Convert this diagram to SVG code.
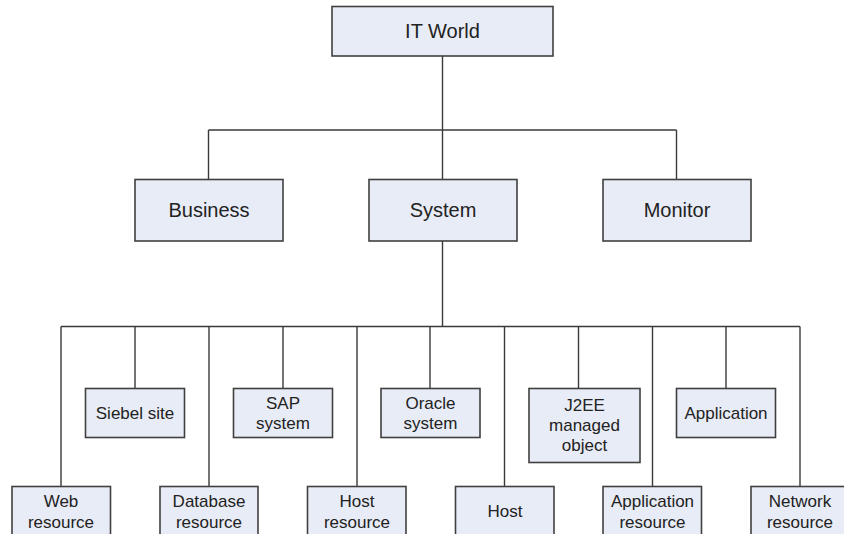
<svg xmlns="http://www.w3.org/2000/svg" width="844" height="534" viewBox="0 0 844 534">
<style>
.box{fill:#E8ECF6;stroke:#404040;stroke-width:1.6}
.big{font-family:"Liberation Sans",Arial,sans-serif;font-size:20px;fill:#222;text-anchor:middle}
.sm{font-family:"Liberation Sans",Arial,sans-serif;font-size:17px;fill:#222;text-anchor:middle}
.ln{fill:none;stroke:#3a3a3a;stroke-width:1.4}
</style>
<rect width="844" height="534" fill="#fff"/>
<g id="connectors" class="ln">
<path d="M442.5 56V130M208.5 130H676.5M208.5 130V179.5M442.5 130V179.5M676.5 130V179.5"/>
<path d="M442.5 241V326.5M61 326.5H800"/>
<path d="M61 326.5V486.5M135 326.5V388.5M209 326.5V486.5M283 326.5V388.5M357 326.5V486.5M430 326.5V388.5M504.5 326.5V486.5M578.5 326.5V388.5M652.5 326.5V486.5M726 326.5V388.5M800 326.5V486.5"/>
</g>
<g id="itworld"><rect class="box" x="332" y="6.5" width="221" height="49.5"/><text class="big" x="442.5" y="37.5">IT World</text></g>
<g id="business"><rect class="box" x="135" y="179.5" width="148" height="61.5"/><text class="big" x="209" y="217">Business</text></g>
<g id="system"><rect class="box" x="369" y="179.5" width="148" height="61.5"/><text class="big" x="443" y="217">System</text></g>
<g id="monitor"><rect class="box" x="603" y="179.5" width="148" height="61.5"/><text class="big" x="677" y="217">Monitor</text></g>

<g id="siebel"><rect class="box" x="85.5" y="388.5" width="99" height="49"/><text class="sm" x="135" y="419">Siebel site</text></g>
<g id="sap"><rect class="box" x="233.5" y="388.5" width="99" height="49"/><text class="sm" x="283" y="409">SAP</text><text class="sm" x="283" y="429">system</text></g>
<g id="oracle"><rect class="box" x="381" y="388.5" width="99" height="49"/><text class="sm" x="430.5" y="409">Oracle</text><text class="sm" x="430.5" y="429">system</text></g>
<g id="j2ee"><rect class="box" x="529" y="388.5" width="111" height="74"/><text class="sm" x="584.5" y="410.5">J2EE</text><text class="sm" x="584.5" y="431">managed</text><text class="sm" x="584.5" y="451">object</text></g>
<g id="application"><rect class="box" x="676.5" y="388.5" width="99" height="49"/><text class="sm" x="726" y="419">Application</text></g>

<g id="web"><rect class="box" x="12" y="486.5" width="98.5" height="60"/><text class="sm" x="61" y="507">Web</text><text class="sm" x="61" y="527.5">resource</text></g>
<g id="database"><rect class="box" x="160" y="486.5" width="98" height="60"/><text class="sm" x="209" y="507">Database</text><text class="sm" x="209" y="527.5">resource</text></g>
<g id="hostresource"><rect class="box" x="307.5" y="486.5" width="98.5" height="60"/><text class="sm" x="357" y="507">Host</text><text class="sm" x="357" y="527.5">resource</text></g>
<g id="host"><rect class="box" x="455.5" y="486.5" width="98.5" height="60"/><text class="sm" x="505" y="517">Host</text></g>
<g id="appresource"><rect class="box" x="603" y="486.5" width="98.5" height="60"/><text class="sm" x="652.5" y="507">Application</text><text class="sm" x="652.5" y="527.5">resource</text></g>
<g id="network"><rect class="box" x="751" y="486.5" width="98.5" height="60"/><text class="sm" x="800" y="507">Network</text><text class="sm" x="800" y="527.5">resource</text></g>
</svg>
